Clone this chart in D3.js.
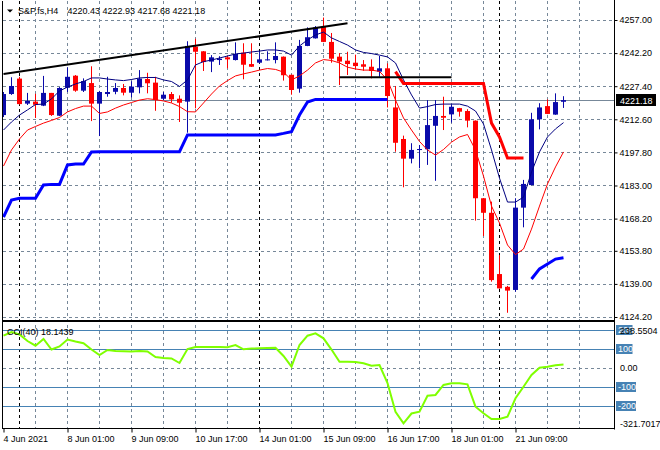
<!DOCTYPE html>
<html><head><meta charset="utf-8">
<script src="https://cdn.jsdelivr.net/npm/d3@7"></script>
<style>
body{margin:0;background:#fff}
svg{display:block}
text{font-family:"Liberation Sans",Arial,sans-serif;font-size:9px;fill:#000}
</style>
</head><body>
<svg id="c" width="660" height="450"></svg>
<script>
// ---------------- DATA ----------------
const symbol = "S&P.fs,H4";
const open = [4214.5,4223.9,4230.8,4219.6,4220.5,4218.7,4224.4,4214.2,4226.7,4232.1,
 4225.4,4228.8,4219.6,4223.9,4224.9,4226.6,4224.5,4226.9,4230.6,4229.0,
 4221.8,4223.9,4221.8,4220.5,4245.1,4243.0,4238.4,4239.1,4240.3,4239.1,
 4242.4,4237.3,4237.9,4239.0,4239.1,4240.6,4232.5,4226.3,4245.4,4248.8,
 4254.0,4247.2,4240.6,4238.8,4237.9,4237.2,4236.1,4233.9,4235.4,4217.9,
 4203.8,4195.0,4198.9,4199.2,4209.7,4214.1,4214.8,4217.6,4216.3,4212.0,
 4177.3,4170.8,4143.4,4137.7,4136.3,4173.1,4183.2,4212.6,4218.5,4214.7,4220.43];
const high = [4224.8,4231.4,4231.6,4224.4,4224.0,4232.0,4224.4,4227.0,4235.8,4232.4,
 4230.9,4236.3,4225.3,4231.6,4228.8,4228.4,4229.6,4234.6,4233.4,4231.6,
 4224.8,4224.8,4223.3,4247.5,4248.6,4243.1,4241.3,4240.8,4240.9,4247.0,
 4246.6,4246.6,4243.0,4243.0,4247.0,4240.7,4232.6,4248.1,4253.7,4254.3,
 4258.1,4251.2,4242.2,4242.8,4241.5,4239.1,4239.4,4240.9,4237.6,4227.5,
 4205.3,4201.9,4201.1,4221.2,4221.2,4222.7,4219.3,4217.7,4217.1,4212.1,
 4177.4,4175.8,4151.9,4138.1,4177.3,4185.5,4215.5,4219.8,4221.5,4224.2,4222.93];
const low = [4213.6,4223.5,4219.2,4219.0,4213.2,4218.5,4214.1,4214.0,4224.8,4224.9,
 4224.8,4211.8,4205.1,4222.7,4223.8,4223.3,4222.4,4224.2,4224.2,4216.4,
 4221.2,4220.0,4211.4,4206.6,4217.5,4234.2,4233.7,4236.9,4235.4,4238.9,
 4230.5,4236.0,4237.6,4238.9,4237.6,4229.9,4223.6,4224.5,4245.3,4248.7,
 4247.1,4237.9,4227.9,4232.4,4235.0,4234.3,4230.9,4231.6,4217.9,4198.1,
 4182.2,4192.9,4190.7,4192.2,4185.1,4207.8,4211.1,4213.8,4209.0,4167.3,
 4160.4,4140.0,4136.9,4126.1,4135.5,4164.3,4183.1,4208.1,4214.9,4214.6,4217.68];
const close = [4223.9,4227.5,4219.4,4220.8,4219.1,4224.4,4214.5,4226.6,4231.6,4225.4,
 4229.7,4219.6,4224.8,4224.8,4226.6,4224.5,4227.2,4230.8,4228.7,4221.2,
 4223.6,4221.5,4220.0,4245.4,4242.8,4238.2,4240.3,4239.7,4239.4,4241.8,
 4237.0,4236.1,4239.4,4239.4,4240.9,4232.3,4225.7,4245.4,4249.3,4253.7,
 4247.2,4239.7,4238.4,4237.3,4236.4,4236.1,4234.2,4235.4,4223.0,4202.1,
 4195.0,4198.9,4199.3,4210.0,4214.1,4213.3,4218.2,4216.0,4212.0,4177.3,
 4170.8,4140.7,4137.0,4136.0,4173.1,4183.7,4212.6,4217.9,4215.0,4220.3,4221.18];
const maUpper = [4207.8,4211.4,4214.5,4216.8,4219.2,4219.4,4221.7,4225.3,4227.0,4228.4,
 4229.5,4231.1,4231.1,4230.6,4230.2,4229.9,4230.4,4231.1,4231.3,4231.3,
 4230.2,4229.5,4227.3,4230.2,4236.9,4238.4,4239.1,4240.0,4240.9,4241.8,
 4242.2,4242.7,4243.1,4243.6,4243.6,4243.1,4241.3,4245.4,4248.1,4250.3,
 4251.6,4249.0,4247.4,4245.8,4243.6,4242.5,4242.0,4241.3,4240.5,4237.8,
 4230.2,4223.5,4217.6,4218.3,4219.2,4219.4,4219.4,4219.4,4218.5,4216.3,
 4210.5,4198.9,4186.3,4175.6,4175.6,4177.8,4189.0,4198.0,4204.7,4208.3,4211.1];
const maLower = [4191.7,4198.9,4203.8,4207.8,4209.4,4210.9,4212.1,4213.4,4215.9,4217.4,
 4218.5,4218.5,4215.2,4215.9,4217.6,4219.0,4220.1,4221.2,4221.8,4221.4,
 4220.8,4219.9,4218.3,4216.0,4215.9,4219.9,4223.9,4227.5,4229.9,4232.0,
 4232.9,4233.7,4234.6,4235.3,4234.9,4233.7,4230.2,4232.0,4234.6,4237.8,
 4239.3,4238.9,4237.8,4235.9,4235.1,4234.6,4234.6,4234.0,4230.2,4221.2,
 4213.2,4207.8,4202.7,4198.9,4196.6,4199.1,4202.4,4204.7,4205.8,4198.9,
 4187.2,4173.8,4166.2,4156.4,4152.1,4154.6,4163.5,4173.8,4183.7,4191.3,4198.0];
const trailUp = [4168.9,4176.5,4177.3,4177.3,4177.3,4183.2,4183.5,4183.5,4192.2,4192.6,
 4192.6,4198.0,4198.1,4198.1,4198.1,4198.1,4198.1,4198.1,4198.1,4198.1,
 4198.1,4198.1,4198.1,4205.6,4205.6,4205.6,4205.6,4205.6,4205.6,4205.6,
 4205.6,4205.6,4205.6,4205.6,4205.6,4206.3,4207.1,4214.5,4220.3,4221.5,
 4221.5,4221.5,4221.5,4221.5,4221.5,4221.5,4221.5,4221.5,4221.5,null,
 null,null,null,null,null,null,null,null,null,null,
 null,null,null,null,null,null,4141.2,4145.7,4147.9,4150.1,4150.7];
const trailDown = [null,null,null,null,null,null,null,null,null,null,
 null,null,null,null,null,null,null,null,null,null,
 null,null,null,null,null,null,null,null,null,null,
 null,null,null,null,null,null,null,null,null,null,
 null,null,null,null,null,null,null,null,null,4233.9,
 4228.6,4228.6,4228.6,4228.6,4228.6,4228.6,4228.6,4228.6,4228.6,4228.6,
 4228.6,4210.9,4204.7,4195.3,4195.3,4195.3,null,null,null,null,null];
const cci = [170.0,189.5,176.3,142.1,117.3,152.6,97.3,113.1,150.0,139.5,
 130.0,97.3,68.3,94.7,89.4,87.8,86.7,89.4,86.7,57.8,
 52.5,49.9,26.1,99.9,110.5,110.5,110.5,110.5,108.9,121.0,
 98.3,102.6,103.6,105.2,106.8,63.0,6.6,121.0,170.0,182.7,
 156.3,97.0,33.0,33.0,31.4,24.6,11.9,15.6,-79.3,-230.5,
 -291.7,-240.0,-230.5,-146.2,-142.5,-89.8,-80.8,-80.8,-86.1,-204.2,
 -239.0,-269.0,-269.0,-256.9,-159.9,-98.8,-37.1,1.4,6.6,14.5,18.1439];
const cciPeriod = 40;
const cciRange = [-321.7017, 238.5504];
const cciLevels = [200, 100, -100, -200];
const priceTicks = [4257.00,4242.20,4227.40,4212.60,4197.80,4183.00,4168.20,4153.80,4139.00,4124.20];
const timeLabelBars = [0,8,16,24,32,40,48,56,64];
const timeLabels = ["4 Jun 2021","8 Jun 01:00","9 Jun 09:00","10 Jun 17:00","14 Jun 01:00","15 Jun 09:00","16 Jun 17:00","18 Jun 01:00","21 Jun 09:00"];
const gridBars = [4,8,12,16,20,24,28,36,40,44,48,52,56,60,64,68,72];
const separatorBars = [2,32,62];
const trendLine = [[0,4232.85],[43,4255.5]];
const levelLine = [[42,4231.4],[56,4231.4]];

// ---------------- LAYOUT ----------------
const svg = d3.select("#c");
const L = 3, R = 615, mainTop = 1, mainBot = 320, cciTop = 322, cciBot = 429;
const n = close.length;
const x = d3.scaleLinear().domain([0, n - 1]).range([3, 3 + 8 * (n - 1)]);
const y = d3.scaleLinear().domain([4124.2, 4257]).range([317, 20]);
const yc = d3.scaleLinear().domain(cciRange).range([429, 322.7]);
const gridCol = "#778899";

const defs = svg.append("defs");
defs.append("clipPath").attr("id","cm").append("rect").attr("x",L).attr("y",mainTop).attr("width",R-L).attr("height",mainBot-mainTop);
defs.append("clipPath").attr("id","cc").append("rect").attr("x",L).attr("y",cciTop).attr("width",R-L).attr("height",cciBot-cciTop);

// grid
const g = svg.append("g");
g.selectAll(".hg").data(priceTicks).join("line")
  .attr("x1",L).attr("x2",R).attr("y1",d=>Math.round(y(d))+0.5).attr("y2",d=>Math.round(y(d))+0.5)
  .attr("stroke",gridCol).attr("stroke-dasharray","3,3");
g.selectAll(".vg").data(gridBars).join("line")
  .attr("x1",d=>x(d)+0.5).attr("x2",d=>x(d)+0.5).attr("y1",mainTop).attr("y2",cciBot)
  .attr("stroke",gridCol).attr("stroke-dasharray","3,3");
g.append("line").attr("x1",L).attr("x2",R).attr("y1",Math.round(yc(0))+0.5).attr("y2",Math.round(yc(0))+0.5)
  .attr("stroke",gridCol).attr("stroke-dasharray","3,3");
g.selectAll(".sep").data(separatorBars).join("line")
  .attr("x1",d=>x(d)+0.5).attr("x2",d=>x(d)+0.5).attr("y1",mainTop).attr("y2",cciBot)
  .attr("stroke","#000").attr("stroke-dasharray","3,3");

// CCI levels
g.selectAll(".lv").data(cciLevels).join("line")
  .attr("x1",L).attr("x2",R).attr("y1",d=>Math.round(yc(d))+0.5).attr("y2",d=>Math.round(yc(d))+0.5)
  .attr("stroke","#4682B4");

// current price line
const last = n - 1;
svg.append("line").attr("x1",L).attr("x2",R)
  .attr("y1",Math.round(y(close[last]))+0.5).attr("y2",Math.round(y(close[last]))+0.5)
  .attr("stroke",gridCol);

// main panel content
const pm = svg.append("g").attr("clip-path","url(#cm)");
const idx = d3.range(n);
idx.forEach(i=>{
  const up = close[i] >= open[i];
  const col = up ? "#0a0aaa" : "#ff0000";
  const cx = x(i);
  pm.append("line").attr("x1",cx+0.5).attr("x2",cx+0.5).attr("y1",y(high[i])).attr("y2",y(low[i])).attr("stroke",col);
  const top = y(Math.max(open[i],close[i])), bot = y(Math.min(open[i],close[i]));
  pm.append("rect").attr("x",cx-2).attr("width",5).attr("y",top).attr("height",Math.max(1,bot-top)).attr("fill",col);
});
const lineGen = d3.line().defined(d=>d[1]!=null).x(d=>x(d[0])+0.5).y(d=>y(d[1]));
const ser = a => a.map((v,i)=>[i,v]);
pm.append("path").attr("d",lineGen(ser(maUpper))).attr("fill","none").attr("stroke","#000080").attr("stroke-width",1);
pm.append("path").attr("d",lineGen(ser(maLower))).attr("fill","none").attr("stroke","#ff0000").attr("stroke-width",1);
pm.append("path").attr("d",lineGen(ser(trailUp))).attr("fill","none").attr("stroke","#0000ff").attr("stroke-width",3);
pm.append("path").attr("d",lineGen(ser(trailDown))).attr("fill","none").attr("stroke","#ff0000").attr("stroke-width",3);
pm.append("path").attr("d",lineGen(trendLine)).attr("fill","none").attr("stroke","#000").attr("stroke-width",2);
pm.append("path").attr("d",lineGen(levelLine)).attr("fill","none").attr("stroke","#000").attr("stroke-width",2);

// CCI
const pc = svg.append("g").attr("clip-path","url(#cc)");
pc.append("path").attr("d",d3.line().x((d,i)=>x(i)+0.5).y(d=>yc(d))(cci))
  .attr("fill","none").attr("stroke","#7fff00").attr("stroke-width",2);

// borders
const b = svg.append("g").attr("stroke","#000").attr("fill","none");
b.append("line").attr("x1",L-0.5).attr("x2",L-0.5).attr("y1",mainTop).attr("y2",cciBot);
b.append("line").attr("x1",R-0.5).attr("x2",R-0.5).attr("y1",0).attr("y2",cciBot+0.5);
b.append("line").attr("x1",L-1).attr("x2",R).attr("y1",mainBot+0.5).attr("y2",mainBot+0.5);
b.append("line").attr("x1",L-1).attr("x2",R).attr("y1",cciTop-0.5).attr("y2",cciTop-0.5);
b.append("line").attr("x1",L-1).attr("x2",R).attr("y1",cciBot-0.5).attr("y2",cciBot-0.5);

// price axis
const ay = svg.append("g").attr("transform",`translate(${R-0.5},0)`)
  .call(d3.axisRight(y).tickValues(priceTicks).tickFormat(d=>d.toFixed(2)).tickSize(3).tickPadding(2));
ay.select(".domain").remove();
ay.selectAll("text").style("font-size","9px").attr("font-family",null);
ay.selectAll("line").attr("stroke","#000");

// current price box
const py = Math.round(y(close[last]));
svg.append("rect").attr("x",616).attr("y",py-6).attr("width",40).attr("height",12).attr("fill","#000");
svg.append("text").attr("x",620).attr("y",py+3.5).text(close[last].toFixed(2)).style("fill","#fff");

// CCI axis labels
cciLevels.forEach(v=>{
  const yy = Math.round(yc(v));
  const t = String(v);
  svg.append("rect").attr("x",616).attr("y",yy-5).attr("width",t.length>3?20:16.5).attr("height",10).attr("fill","#4682B4");
  svg.append("text").attr("x",618).attr("y",yy+3.3).text(t).style("fill","#fff");
});
svg.append("text").attr("x",620).attr("y",Math.round(yc(0))+3.3).text("0.00");
svg.append("text").attr("x",620).attr("y",334).text(cciRange[1].toFixed(4));
svg.append("text").attr("x",620).attr("y",426.5).text(cciRange[0].toFixed(4));

// time axis
const ax = svg.append("g").attr("transform",`translate(0.5,${cciBot-0.5})`)
  .call(d3.axisBottom(x).tickValues(timeLabelBars).tickFormat((d,i)=>timeLabels[i]).tickSize(4).tickPadding(3));
ax.select(".domain").remove();
ax.selectAll("line").attr("stroke","#000");
ax.selectAll("text").attr("text-anchor","start").attr("x",-0.5).style("font-size","9px").attr("font-family",null);

// header
svg.append("path").attr("d","M7,9.5 L13,9.5 L10,12.5 Z").attr("fill","#000");
svg.append("text").attr("x",18).attr("y",13.5).text(symbol);
svg.append("text").attr("x",67.5).attr("y",13.5)
  .text([open[last],high[last],low[last],close[last]].map(v=>v.toFixed(2)).join(" "));
svg.append("text").attr("x",7).attr("y",334.5).text(`CCI(${cciPeriod}) ${cci[last].toFixed(4)}`);
</script>
</body></html>
